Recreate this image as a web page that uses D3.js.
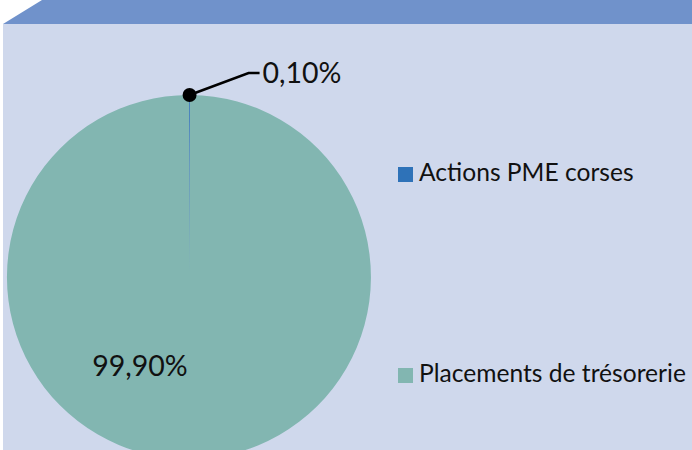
<!DOCTYPE html>
<html lang="fr">
<head>
    <meta charset="UTF-8">
    <title>Répartition</title>
    <script src="https://cdn.jsdelivr.net/npm/d3@7"></script>
    <style>
        body { margin: 0; background: #fff; }
        text { font-family: Lato, "Open Sans", sans-serif; fill: #111; }
    </style>
</head>
<body>
    <div id="chart"></div>
    <script>
        var width = 692, height = 450;
        // données
        var categories = ["Actions PME corses", "Placements de trésorerie"];
        var values = [0.1, 99.9];
        var labels = ["0,10%", "99,90%"];
        var colors = ["#2e72b8", "#82b6b1"];

        var svg = d3.select("#chart")
                    .append("svg")
                    .attr("width", width)
                    .attr("height", height);

        // fond : bandeau bleu + panneau
        svg.append("path")
            .attr("d", "M3,24 L42,0 L" + width + ",0 L" + width + ",24 Z")
            .attr("fill", "#7092cb");
        svg.append("rect")
            .attr("x", 3).attr("y", 24)
            .attr("width", width - 3).attr("height", height - 24)
            .attr("fill", "#cfd8ec");

        var cx = 189, cy = 277, r = 182;
        var g = svg.append("g").attr("transform", "translate(" + cx + "," + cy + ")");

        var pie = d3.pie().sort(null).value(function(d){ return d; });
        var arcs = pie(values);
        var arc = d3.arc().innerRadius(0).outerRadius(r);

        g.selectAll("path.slice")
            .data(arcs)
            .enter().append("path")
            .attr("class", "slice")
            .attr("d", arc)
            .attr("fill", function(d, i){ return colors[i]; })
            .attr("stroke", function(d, i){ return i == 0 ? "#5f8fc0" : "none"; })
            .attr("stroke-width", 0.8);

        // étiquette de la petite part avec ligne de rappel
        var a0 = (arcs[0].startAngle + arcs[0].endAngle) / 2;
        var px = Math.sin(a0) * r, py = -Math.cos(a0) * r;
        g.append("polyline")
            .attr("points", [[px, py], [px + 59, py - 22], [px + 70, py - 22]].join(" "))
            .attr("fill", "none")
            .attr("stroke", "#000")
            .attr("stroke-width", 2.5);
        g.append("circle")
            .attr("cx", px).attr("cy", py).attr("r", 7)
            .attr("fill", "#000");
        g.append("text")
            .attr("x", px + 73).attr("y", py - 22)
            .attr("dy", "0.35em")
            .style("font-size", "28.5px")
            .text(labels[0]);

        // étiquette de la grande part
        g.append("text")
            .attr("x", -49).attr("y", 99)
            .attr("text-anchor", "middle")
            .style("font-size", "28.5px")
            .text(labels[1]);

        // légende
        var legend = svg.append("g").attr("transform", "translate(398,0)");
        var ly = [167, 368];
        var item = legend.selectAll("g")
            .data(categories)
            .enter().append("g")
            .attr("transform", function(d, i){ return "translate(0," + ly[i] + ")"; });
        item.append("rect")
            .attr("width", 15).attr("height", 15)
            .attr("fill", function(d, i){ return colors[i]; });
        item.append("text")
            .attr("x", 21).attr("y", 14)
            .style("font-size", "24.6px")
            .text(function(d){ return d; });
    </script>
</body>
</html>
